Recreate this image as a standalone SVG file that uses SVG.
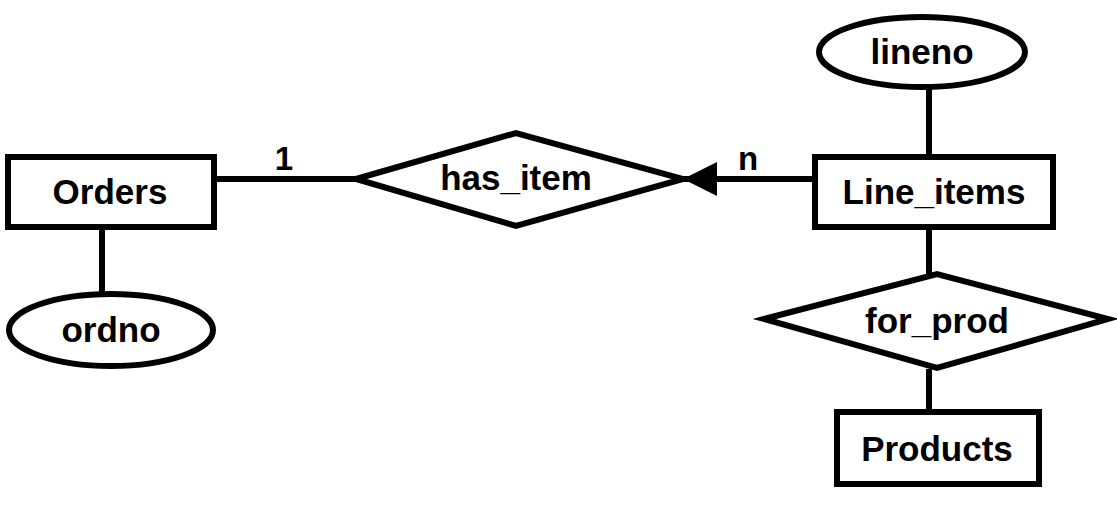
<svg xmlns="http://www.w3.org/2000/svg" width="1117" height="522" viewBox="0 0 1117 522">
<defs>
<style>
.s{fill:#fff;stroke:#000;stroke-width:6}
.c{stroke:#000;stroke-width:6;fill:none}
.t{font-family:"Liberation Sans",Arial,sans-serif;font-weight:bold;font-size:35px;fill:#000;text-anchor:middle}
.l{font-size:33px}
</style>
<marker id="arr" markerUnits="userSpaceOnUse" markerWidth="34" markerHeight="34" refX="34" refY="17" orient="auto" viewBox="0 0 34 34">
<path d="M0,0 L34,17 L0,34 Z" fill="#000"/>
</marker>
</defs>
<rect width="1117" height="522" fill="#fff"/>
<g id="connectors">
<line class="c" x1="102" y1="228" x2="102" y2="294"/>
<line class="c" x1="215" y1="179" x2="356" y2="179"/>
<line class="c" x1="813" y1="179" x2="683" y2="179" marker-end="url(#arr)"/>
<line class="c" x1="929" y1="87" x2="929" y2="156"/>
<line class="c" x1="929" y1="229" x2="929" y2="274"/>
<line class="c" x1="929" y1="369" x2="929" y2="411"/>
<text class="t l" x="284" y="170">1</text>
<text class="t l" x="748" y="170">n</text>
</g>
<g id="Orders">
<rect class="s" x="8" y="157" width="206" height="70"/>
<text class="t" x="110" y="204">Orders</text>
</g>
<g id="ordno">
<ellipse class="s" cx="111" cy="330" rx="102" ry="36"/>
<text class="t" x="111" y="342">ordno</text>
</g>
<g id="has_item">
<polygon class="s" points="356,179 516,133 683,179 516,226"/>
<text class="t" x="516" y="190">has_item</text>
</g>
<g id="Line_items">
<rect class="s" x="815" y="157" width="238" height="70"/>
<text class="t" x="934" y="204">Line_items</text>
</g>
<g id="lineno">
<ellipse class="s" cx="922" cy="52" rx="103" ry="35"/>
<text class="t" x="922" y="64">lineno</text>
</g>
<g id="for_prod">
<polygon class="s" points="764,319 937,274 1108,319 937,368"/>
<text class="t" x="937" y="333">for_prod</text>
</g>
<g id="Products">
<rect class="s" x="837" y="412" width="202" height="72"/>
<text class="t" x="937" y="461">Products</text>
</g>
</svg>
